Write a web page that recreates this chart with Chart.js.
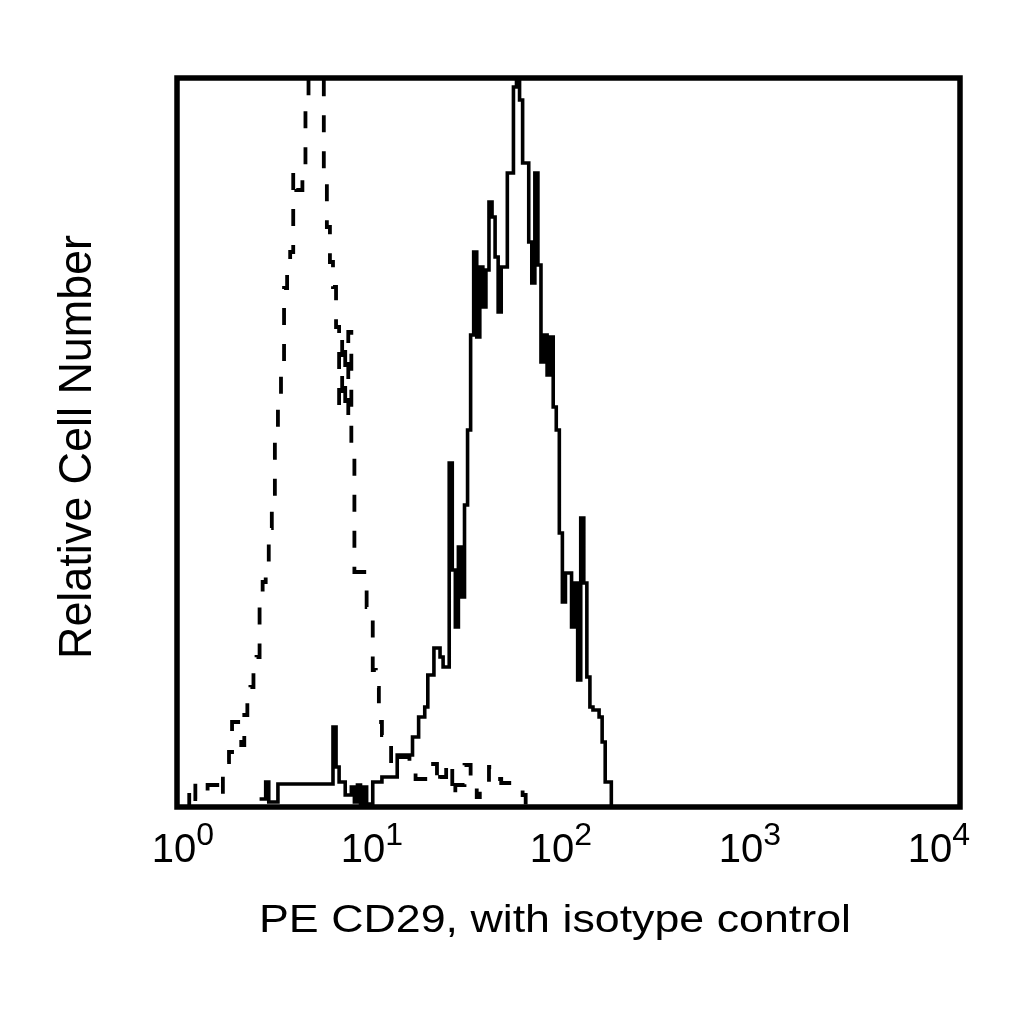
<!DOCTYPE html>
<html>
<head>
<meta charset="utf-8">
<script src="https://cdn.jsdelivr.net/npm/chart.js@4.4.1/dist/chart.umd.min.js"></script>
<style>
  html, body { margin: 0; padding: 0; background: #fff; }
  #plot { display: block; }
</style>
</head>
<body>
<canvas id="plot" width="1024" height="1024"></canvas>
<script>
// histogram channels (256 channels over 4 decades) and counts
const isoChannels = [3, 4, 6, 8, 10, 14, 15, 17, 18, 20, 21, 22, 23, 24, 25, 26, 27, 28, 29, 30,
    31, 32, 33, 34, 35, 36, 37, 38, 39, 41, 42, 43, 44, 45, 46, 47, 48, 49, 50, 51,
    52, 53, 54, 55, 56, 57, 58, 62, 64, 65, 66, 67, 70, 71, 76, 78, 82, 85, 86, 88,
    90, 91, 94, 96, 98, 99, 102, 104, 106, 113, 114]
const isoCounts = [0, 25, 8, 14, 22, 10, 45, 55, 85, 75, 62, 92, 104, 120, 135, 150, 205, 225, 242, 279,
    310, 370, 410, 440, 519, 545, 555, 634, 617, 640, 700, 760, 800, 770, 790, 775, 625, 580, 545, 520,
    480, 400, 470, 390, 475, 360, 235, 200, 137, 119, 85, 72, 40, 50, 35, 28, 43, 22, 30, 45,
    10, 22, 42, 25, 10, 22, 40, 28, 24, 12, 0]

const cd29Channels = [27, 29, 30, 33, 51, 52, 53, 55, 57, 58, 59, 60, 61, 62, 64, 67, 72, 77, 79, 81,
    82, 84, 86, 87, 89, 90, 91, 92, 93, 94, 95, 96, 97, 98, 99, 100, 101, 102, 103, 104,
    105, 106, 108, 110, 111, 112, 113, 115, 116, 117, 118, 119, 120, 121, 122, 123, 124, 125, 126, 127,
    129, 130, 131, 132, 133, 134, 135, 136, 138, 139, 140, 142]
const cd29Counts = [8, 25, 5, 23, 80, 40, 25, 12, 20, 5, 22, 3, 20, 3, 25, 30, 52, 70, 90, 100,
    132, 159, 150, 140, 344, 237, 180, 260, 210, 302, 377, 472, 555, 470, 540, 500, 537, 605, 590, 550,
    495, 540, 634, 720, 760, 707, 644, 565, 524, 634, 542, 445, 472, 432, 470, 400, 377, 274, 205, 234,
    180, 224, 127, 289, 224, 130, 100, 97, 90, 65, 25, 0]

const tickValues = [1, 10, 100, 1000, 10000]
const tickExponents = ['0', '1', '2', '3', '4']

const xTitle = 'PE CD29, with isotype control'
const yTitle = 'Relative Cell Number'

const FONT = "'Liberation Sans', Arial, Helvetica, sans-serif"

function toPoints(channels, counts) {
    // channel -> fluorescence on a 4 decade log amp
    return channels.map((c, i) => ({ x: Math.pow(10, c / 64), y: counts[i] }))
}

const framePlugin = {
    id: 'frame',
    afterDraw(chart) {
        const ctx = chart.ctx
        const a = chart.chartArea
        const xs = chart.scales.x
        ctx.save()
        ctx.strokeStyle = '#000'
        ctx.lineWidth = 5.5
        ctx.strokeRect(a.left, a.top, a.right - a.left, a.bottom - a.top)

        // tick labels 10^n
        ctx.fillStyle = '#000'
        ctx.textBaseline = 'alphabetic'
        ctx.textAlign = 'left'
        for (let i = 0; i < tickValues.length; i++) {
            const px = xs.getPixelForValue(tickValues[i])
            const cx = a.left + 6 + (px - a.left) * 0.9655
            ctx.font = '40px ' + FONT
            const wBase = ctx.measureText('10').width
            ctx.font = '32px ' + FONT
            const wExp = ctx.measureText(tickExponents[i]).width
            const x0 = cx - (wBase + wExp) / 2
            ctx.font = '40px ' + FONT
            ctx.fillText('10', x0, a.bottom + 55)
            ctx.font = '32px ' + FONT
            ctx.fillText(tickExponents[i], x0 + wBase, a.bottom + 38)
        }

        // x title
        ctx.font = '39px ' + FONT
        const wx = ctx.measureText(xTitle).width
        ctx.save()
        ctx.translate(555, 932)
        ctx.scale(592 / wx, 1)
        ctx.textAlign = 'center'
        ctx.fillText(xTitle, 0, 0)
        ctx.restore()

        // y title
        ctx.font = '46px ' + FONT
        const wy = ctx.measureText(yTitle).width
        ctx.save()
        ctx.translate(91, 447)
        ctx.rotate(-Math.PI / 2)
        ctx.scale(424 / wy, 1)
        ctx.textAlign = 'center'
        ctx.fillText(yTitle, 0, 0)
        ctx.restore()
        ctx.restore()
    }
}

const ctx = document.getElementById('plot').getContext('2d')
const chart = new Chart(ctx, {
    type: 'line',
    data: {
        datasets: [{
            label: 'isotype control',
            data: toPoints(isoChannels, isoCounts),
            stepped: true,
            borderColor: '#000',
            borderWidth: 3.8,
            borderDash: [17, 19],
            pointRadius: 0,
            fill: false,
            clip: 0
        }, {
            label: 'PE CD29',
            data: toPoints(cd29Channels, cd29Counts),
            stepped: true,
            borderColor: '#000',
            borderWidth: 3.6,
            pointRadius: 0,
            fill: false,
            clip: 0
        }]
    },
    options: {
        responsive: false,
        animation: false,
        devicePixelRatio: 1,
        layout: {
            padding: { left: 177, top: 78, right: 64, bottom: 217 }
        },
        plugins: {
            legend: { display: false },
            tooltip: { enabled: false }
        },
        scales: {
            x: { type: 'logarithmic', min: 1, max: 10000, display: false },
            y: { type: 'linear', min: 0, max: 729, display: false }
        }
    },
    plugins: [framePlugin]
})
</script>
</body>
</html>
